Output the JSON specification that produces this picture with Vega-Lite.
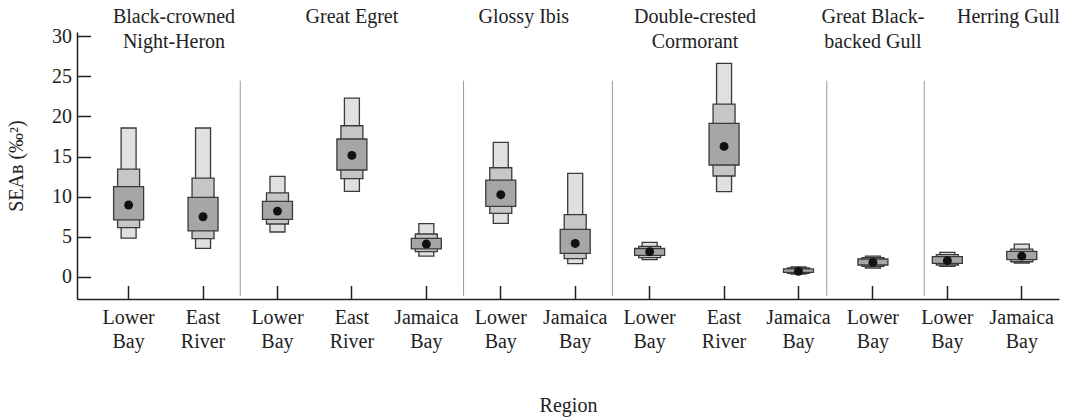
{
  "$schema": "https://vega.github.io/schema/vega-lite/v6.json",
  "width": 982,
  "height": 267,
  "autosize": {"type": "none"},
  "padding": {"left": 77, "top": 32, "right": 14, "bottom": 120},
  "background": "white",
  "config": {
    "view": {"stroke": null},
    "font": "Liberation Serif",
    "axis": {
      "labelFont": "Liberation Serif",
      "titleFont": "Liberation Serif",
      "labelFontSize": 20,
      "titleFontSize": 20,
      "titleFontWeight": "normal",
      "labelColor": "#222",
      "titleColor": "#222",
      "domainColor": "#222",
      "tickColor": "#222",
      "domainWidth": 1.5,
      "tickWidth": 1.5,
      "grid": false
    }
  },
  "datasets": {
    "boxes": [
      {"key": "Black-crowned Night-Heron|Lower Bay", "lo95": 4.85, "hi95": 18.55, "lo75": 6.14, "hi75": 13.44, "lo50": 7.1, "hi50": 11.24, "mode": 8.96},
      {"key": "Black-crowned Night-Heron|East River", "lo95": 3.56, "hi95": 18.55, "lo75": 4.77, "hi75": 12.32, "lo50": 5.73, "hi50": 9.91, "mode": 7.5},
      {"key": "Great Egret|Lower Bay", "lo95": 5.6, "hi95": 12.52, "lo75": 6.6, "hi75": 10.46, "lo50": 7.17, "hi50": 9.41, "mode": 8.2},
      {"key": "Great Egret|East River", "lo95": 10.66, "hi95": 22.28, "lo75": 12.24, "hi75": 18.83, "lo50": 13.32, "hi50": 17.18, "mode": 15.14},
      {"key": "Great Egret|Jamaica Bay", "lo95": 2.61, "hi95": 6.64, "lo75": 3.15, "hi75": 5.35, "lo50": 3.49, "hi50": 4.81, "mode": 4.1},
      {"key": "Glossy Ibis|Lower Bay", "lo95": 6.67, "hi95": 16.76, "lo75": 7.92, "hi75": 13.6, "lo50": 8.79, "hi50": 12.07, "mode": 10.25},
      {"key": "Glossy Ibis|Jamaica Bay", "lo95": 1.66, "hi95": 12.9, "lo75": 2.28, "hi75": 7.76, "lo50": 2.94, "hi50": 5.93, "mode": 4.18},
      {"key": "Double-crested Cormorant|Lower Bay", "lo95": 2.15, "hi95": 4.3, "lo75": 2.4, "hi75": 3.8, "lo50": 2.7, "hi50": 3.55, "mode": 3.15},
      {"key": "Double-crested Cormorant|East River", "lo95": 10.62, "hi95": 26.6, "lo75": 12.57, "hi75": 21.53, "lo50": 13.94, "hi50": 19.12, "mode": 16.26},
      {"key": "Double-crested Cormorant|Jamaica Bay", "lo95": 0.35, "hi95": 1.25, "lo75": 0.45, "hi75": 1.12, "lo50": 0.57, "hi50": 1.0, "mode": 0.7},
      {"key": "Great Black-backed Gull|Lower Bay", "lo95": 1.12, "hi95": 2.6, "lo75": 1.32, "hi75": 2.4, "lo50": 1.49, "hi50": 2.24, "mode": 1.82},
      {"key": "Herring Gull|Lower Bay", "lo95": 1.32, "hi95": 3.06, "lo75": 1.49, "hi75": 2.78, "lo50": 1.7, "hi50": 2.53, "mode": 2.03},
      {"key": "Herring Gull|Jamaica Bay", "lo95": 1.74, "hi95": 4.1, "lo75": 1.9, "hi75": 3.48, "lo50": 2.15, "hi50": 3.19, "mode": 2.6}
    ]
  },
  "encoding": {
    "x": {
      "field": "key",
      "type": "nominal",
      "scale": {
        "domain": [
          "Black-crowned Night-Heron|Lower Bay",
          "Black-crowned Night-Heron|East River",
          "Great Egret|Lower Bay",
          "Great Egret|East River",
          "Great Egret|Jamaica Bay",
          "Glossy Ibis|Lower Bay",
          "Glossy Ibis|Jamaica Bay",
          "Double-crested Cormorant|Lower Bay",
          "Double-crested Cormorant|East River",
          "Double-crested Cormorant|Jamaica Bay",
          "Great Black-backed Gull|Lower Bay",
          "Herring Gull|Lower Bay",
          "Herring Gull|Jamaica Bay"
        ],
        "paddingInner": 0,
        "paddingOuter": 0.0967,
        "align": 1
      },
      "axis": {
        "title": "Region",
        "labelExpr": "split(split(datum.value, '|')[1], ' ')",
        "labelAngle": 0,
        "labelLineHeight": 24,
        "labelBaseline": "top",
        "tickSize": -13.5,
        "labelPadding": 22,
        "titlePadding": 44
      }
    }
  },
  "layer": [
    {
      "data": {"values": [
        {"key": "Black-crowned Night-Heron|East River"},
        {"key": "Great Egret|Jamaica Bay"},
        {"key": "Glossy Ibis|Jamaica Bay"}
      ]},
      "mark": {"type": "rule", "color": "#9a9a9a", "strokeWidth": 1},
      "encoding": {
        "x": {"field": "key", "type": "nominal", "bandPosition": 1},
        "y": {"datum": 24.44, "type": "quantitative"},
        "y2": {"datum": -2.33}
      }
    },
    {
      "data": {"values": [{"key": "Double-crested Cormorant|Jamaica Bay"}]},
      "mark": {"type": "rule", "color": "#9a9a9a", "strokeWidth": 1},
      "encoding": {
        "x": {"field": "key", "type": "nominal", "bandPosition": 0.88},
        "y": {"datum": 24.44, "type": "quantitative"},
        "y2": {"datum": -2.33}
      }
    },
    {
      "data": {"values": [{"key": "Great Black-backed Gull|Lower Bay"}]},
      "mark": {"type": "rule", "color": "#9a9a9a", "strokeWidth": 1},
      "encoding": {
        "x": {"field": "key", "type": "nominal", "bandPosition": 1.19},
        "y": {"datum": 24.44, "type": "quantitative"},
        "y2": {"datum": -2.33}
      }
    },
    {
      "data": {"name": "boxes"},
      "mark": {"type": "bar", "width": 15, "fill": "#e0e0e0", "stroke": "#3a3a3a", "strokeWidth": 1.3},
      "encoding": {
        "y": {
          "field": "lo95",
          "type": "quantitative",
          "scale": {"domain": [-2.74, 30.5], "nice": false, "zero": false},
          "axis": {
            "title": "SEAʙ (‰²)",
            "values": [0, 5, 10, 15, 20, 25, 30],
            "tickSize": -13.5,
            "labelPadding": 19,
            "titlePadding": 25
          }
        },
        "y2": {"field": "hi95"}
      }
    },
    {
      "data": {"name": "boxes"},
      "mark": {"type": "bar", "width": 22, "fill": "#c6c6c6", "stroke": "#3a3a3a", "strokeWidth": 1.3},
      "encoding": {
        "y": {"field": "lo75", "type": "quantitative"},
        "y2": {"field": "hi75"}
      }
    },
    {
      "data": {"name": "boxes"},
      "mark": {"type": "bar", "width": 30, "fill": "#a6a6a6", "stroke": "#3a3a3a", "strokeWidth": 1.3},
      "encoding": {
        "y": {"field": "lo50", "type": "quantitative"},
        "y2": {"field": "hi50"}
      }
    },
    {
      "data": {"name": "boxes"},
      "mark": {"type": "circle", "size": 80, "color": "#111", "opacity": 1},
      "encoding": {
        "y": {"field": "mode", "type": "quantitative"}
      }
    },
    {
      "data": {"values": [
        {"key": "Great Egret|East River", "label": "Great Egret"},
        {"key": "Great Black-backed Gull|Lower Bay", "label": "Great Black-\nbacked Gull"}
      ]},
      "mark": {"type": "text", "fontSize": 20, "font": "Liberation Serif", "lineBreak": "\n", "lineHeight": 25, "baseline": "alphabetic", "align": "center", "color": "#222"},
      "encoding": {
        "x": {"field": "key", "type": "nominal", "bandPosition": 0.5},
        "y": {"datum": 31.66, "type": "quantitative"},
        "text": {"field": "label"}
      }
    },
    {
      "data": {"values": [
        {"key": "Black-crowned Night-Heron|Lower Bay", "label": "Black-crowned\nNight-Heron"},
        {"key": "Double-crested Cormorant|Lower Bay", "label": "Double-crested\nCormorant"}
      ]},
      "mark": {"type": "text", "fontSize": 20, "font": "Liberation Serif", "lineBreak": "\n", "lineHeight": 25, "baseline": "alphabetic", "align": "center", "color": "#222"},
      "encoding": {
        "x": {"field": "key", "type": "nominal", "bandPosition": 1.11},
        "y": {"datum": 31.66, "type": "quantitative"},
        "text": {"field": "label"}
      }
    },
    {
      "data": {"values": [{"key": "Glossy Ibis|Lower Bay", "label": "Glossy Ibis"}]},
      "mark": {"type": "text", "fontSize": 20, "font": "Liberation Serif", "baseline": "alphabetic", "align": "center", "color": "#222"},
      "encoding": {
        "x": {"field": "key", "type": "nominal", "bandPosition": 0.81},
        "y": {"datum": 31.66, "type": "quantitative"},
        "text": {"field": "label"}
      }
    },
    {
      "data": {"values": [{"key": "Herring Gull|Jamaica Bay", "label": "Herring Gull"}]},
      "mark": {"type": "text", "fontSize": 20, "font": "Liberation Serif", "baseline": "alphabetic", "align": "center", "color": "#222"},
      "encoding": {
        "x": {"field": "key", "type": "nominal", "bandPosition": 0.32},
        "y": {"datum": 31.66, "type": "quantitative"},
        "text": {"field": "label"}
      }
    }
  ]
}
